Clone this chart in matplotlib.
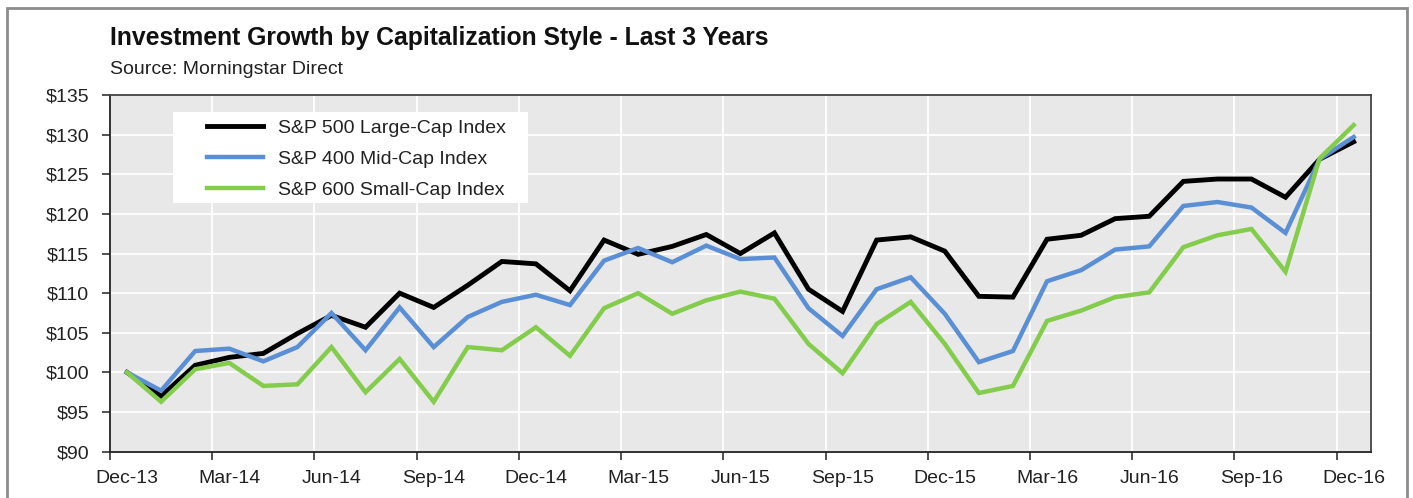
import matplotlib
matplotlib.use("Agg")
import matplotlib.pyplot as plt
from matplotlib.patches import Rectangle
import numpy as np

plt.rcParams['font.family'] = ['Liberation Sans', 'DejaVu Sans']

months = ["Dec-13", "Jan-14", "Feb-14", "Mar-14", "Apr-14", "May-14", "Jun-14", "Jul-14", "Aug-14",
          "Sep-14", "Oct-14", "Nov-14", "Dec-14", "Jan-15", "Feb-15", "Mar-15", "Apr-15", "May-15",
          "Jun-15", "Jul-15", "Aug-15", "Sep-15", "Oct-15", "Nov-15", "Dec-15", "Jan-16", "Feb-16",
          "Mar-16", "Apr-16", "May-16", "Jun-16", "Jul-16", "Aug-16", "Sep-16", "Oct-16", "Nov-16",
          "Dec-16"]

large_cap = [100.0, 97.0, 100.9, 101.9, 102.4, 104.9, 107.2, 105.7, 110.0, 108.2, 111.0, 114.0, 113.7,
             110.3, 116.7, 114.9, 115.9, 117.4, 115.0, 117.6, 110.5, 107.7, 116.7, 117.1, 115.3,
             109.6, 109.5, 116.8, 117.3, 119.4, 119.7, 124.1, 124.4, 124.4, 122.1, 126.9, 129.1]
mid_cap = [100.0, 97.7, 102.7, 103.0, 101.4, 103.2, 107.5, 102.8, 108.2, 103.2, 107.0, 108.9, 109.8,
           108.5, 114.1, 115.7, 113.9, 116.0, 114.3, 114.5, 108.1, 104.6, 110.5, 112.0, 107.4,
           101.3, 102.7, 111.5, 112.9, 115.5, 115.9, 121.0, 121.5, 120.8, 117.6, 126.9, 129.7]
small_cap = [100.0, 96.3, 100.4, 101.2, 98.3, 98.5, 103.2, 97.5, 101.7, 96.3, 103.2, 102.8, 105.7,
             102.1, 108.1, 110.0, 107.4, 109.1, 110.2, 109.3, 103.6, 99.9, 106.1, 108.9, 103.6,
             97.4, 98.3, 106.5, 107.8, 109.5, 110.1, 115.8, 117.3, 118.1, 112.7, 127.0, 131.2]

series_names = ["S&P 500 Large-Cap Index", "S&P 400 Mid-Cap Index", "S&P 600 Small-Cap Index"]
series_colors = ["#000000", "#5a8fd6", "#84cc4b"]

yticks = [90, 95, 100, 105, 110, 115, 120, 125, 130, 135]

fig = plt.figure(figsize=(14.13, 4.98), dpi=100)
W, H = 1413, 498

# outer frame
fig.patches.append(Rectangle((7 / W, -0.05), (1406.5 - 7) / W, 1.05 - 8 / H,
                             transform=fig.transFigure, fill=False,
                             edgecolor="#8c8c8c", linewidth=2.0))

AX_L, AX_R, AX_T, AX_B = 110, 1370.7, 95, 451.7
ax = fig.add_axes([AX_L / W, 1 - AX_B / H, (AX_R - AX_L) / W, (AX_B - AX_T) / H])
ax.set_facecolor("#e8e8e8")

def ax_x(px):
    return (px - AX_L) / (AX_R - AX_L)

def ax_y(py):
    return (AX_B - py) / (AX_B - AX_T)

x = np.arange(len(months))
for vals, name, col, lw in zip([large_cap, mid_cap, small_cap], series_names, series_colors, [3.5, 3.2, 3.2]):
    ax.plot(x, vals, color=col, linewidth=lw, label=name, solid_joinstyle="miter", zorder=3)

ax.set_xlim(-0.5, len(months) - 0.5)
ax.set_ylim(90, 135)

ax.set_yticks(yticks)
ax.set_yticklabels([f"${v}" for v in yticks], fontsize=14, color="#222222")

major = list(range(0, len(months), 3))
ax.set_xticks(major)
ax.set_xticklabels([months[i] for i in major], fontsize=14, color="#222222")
ax.set_xticks([i - 0.5 for i in major], minor=True)
ax.tick_params(axis="x", which="major", length=0, pad=13)
ax.tick_params(axis="x", which="minor", length=6, width=1.2, direction="out", color="#333333")
ax.tick_params(axis="y", length=6, width=1.2, direction="out", color="#333333", pad=9)

ax.grid(axis="y", color="white", linewidth=1.3, zorder=0)
ax.grid(axis="x", which="minor", color="white", linewidth=1.3, zorder=0)
ax.set_axisbelow(True)
for s in ax.spines.values():
    s.set_color("#444444")
    s.set_linewidth(1.3)
ax.spines["left"].set_color("#222222")
ax.spines["bottom"].set_color("#222222")

# legend box (white panel)
ax.add_patch(Rectangle((ax_x(173), ax_y(203)), ax_x(528) - ax_x(173), ax_y(112) - ax_y(203),
                       transform=ax.transAxes, facecolor="white", edgecolor="none", zorder=2.5))

leg = ax.legend(loc="upper left", bbox_to_anchor=(ax_x(207), ax_y(119.5)),
                frameon=False, fontsize=14, handlelength=2.9, handletextpad=0.75,
                labelspacing=0.68, borderpad=0, borderaxespad=0)
leg.set_zorder(4)
for t in leg.get_texts():
    t.set_color("#222222")

fig.text(110 / W, 1 - 45.5 / H, "Investment Growth by Capitalization Style - Last 3 Years",
         fontsize=17.8, fontweight="bold", color="#111111", ha="left", va="baseline")
fig.text(110 / W, 1 - 74 / H, "Source: Morningstar Direct",
         fontsize=14, color="#222222", ha="left", va="baseline")

fig.savefig("out.png", dpi=100)
